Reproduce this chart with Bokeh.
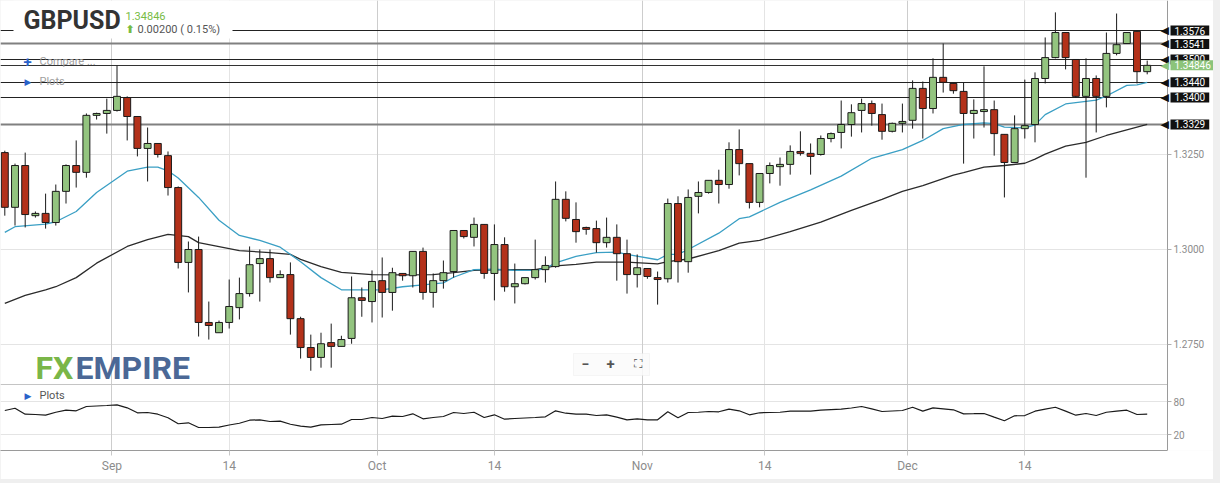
from bokeh.plotting import figure
from bokeh.models import (ColumnDataSource, Range1d, FixedTicker, Label, BoxAnnotation, Grid)
from bokeh.layouts import column
from bokeh.embed import file_html
from bokeh.resources import INLINE

# ---------------- data ----------------
symbol = "GBPUSD"
last_price_text = "1.34846"
change_text = "0.00200 ( 0.15%)"

opens = [1.3255, 1.3111, 1.3221, 1.3089, 1.3095, 1.3071, 1.3153, 1.3221, 1.3203, 1.3353,
         1.3358, 1.3366, 1.3400, 1.3350, 1.3266, 1.3279, 1.3247, 1.3163, 1.2966, 1.3000,
         1.2808, 1.2781, 1.2808, 1.2847, 1.2884, 1.2963, 1.2976, 1.2926, 1.2934, 1.2818,
         1.2742, 1.2716, 1.2755, 1.2745, 1.2766, 1.2873, 1.2863, 1.2918, 1.2887, 1.2937,
         1.2931, 1.2995, 1.2887, 1.2918, 1.2942, 1.3050, 1.3032, 1.3066, 1.2937, 1.3013,
         1.2902, 1.2910, 1.2926, 1.2947, 1.2955, 1.3132, 1.3079, 1.3058, 1.3055, 1.3018,
         1.3032, 1.2989, 1.2934, 1.2950, 1.2926, 1.2923, 1.3121, 1.2968, 1.3140, 1.3150,
         1.3182, 1.3171, 1.3263, 1.3226, 1.3124, 1.3200, 1.3218, 1.3224, 1.3258, 1.3253,
         1.3250, 1.3292, 1.3308, 1.3329, 1.3366, 1.3384, 1.3355, 1.3311, 1.3332, 1.3340,
         1.3424, 1.3371, 1.3453, 1.3437, 1.3416, 1.3358, 1.3363, 1.3368, 1.3303, 1.3229,
         1.3318, 1.3329, 1.3450, 1.3505, 1.3571, 1.3500, 1.3403, 1.3450, 1.3403, 1.3516,
         1.3542, 1.3574, 1.3468]
highs = [1.3260, 1.3226, 1.3255, 1.3100, 1.3147, 1.3171, 1.3224, 1.3287, 1.3358, 1.3360,
         1.3397, 1.3484, 1.3403, 1.3350, 1.3321, 1.3279, 1.3258, 1.3166, 1.3021, 1.3034,
         1.2863, 1.2813, 1.2921, 1.2926, 1.3008, 1.3000, 1.3000, 1.2945, 1.2966, 1.2823,
         1.2776, 1.2781, 1.2805, 1.2773, 1.2929, 1.2900, 1.2945, 1.2979, 1.2952, 1.2937,
         1.2995, 1.3005, 1.2937, 1.2971, 1.3050, 1.3050, 1.3084, 1.3066, 1.3066, 1.3032,
         1.2963, 1.2926, 1.3026, 1.2982, 1.3179, 1.3153, 1.3124, 1.3060, 1.3076, 1.3084,
         1.3066, 1.3026, 1.2987, 1.2950, 1.2942, 1.3134, 1.3140, 1.3158, 1.3179, 1.3182,
         1.3210, 1.3282, 1.3316, 1.3226, 1.3200, 1.3229, 1.3242, 1.3274, 1.3311, 1.3279,
         1.3300, 1.3308, 1.3392, 1.3382, 1.3397, 1.3392, 1.3384, 1.3334, 1.3384, 1.3445,
         1.3442, 1.3503, 1.3542, 1.3437, 1.3440, 1.3395, 1.3482, 1.3392, 1.3303, 1.3353,
         1.3447, 1.3466, 1.3558, 1.3624, 1.3571, 1.3500, 1.3503, 1.3458, 1.3571, 1.3621,
         1.3571, 1.3574, 1.3497]
lows = [1.3089, 1.3063, 1.3058, 1.3084, 1.3055, 1.3063, 1.3121, 1.3163, 1.3189, 1.3342,
        1.3305, 1.3363, 1.3287, 1.3245, 1.3179, 1.3242, 1.3142, 1.2950, 1.2887, 1.2771,
        1.2763, 1.2781, 1.2792, 1.2816, 1.2876, 1.2863, 1.2913, 1.2926, 1.2776, 1.2713,
        1.2681, 1.2689, 1.2689, 1.2745, 1.2752, 1.2823, 1.2808, 1.2821, 1.2839, 1.2918,
        1.2900, 1.2868, 1.2847, 1.2897, 1.2926, 1.3029, 1.3008, 1.2923, 1.2866, 1.2889,
        1.2858, 1.2908, 1.2921, 1.2913, 1.2952, 1.3074, 1.3018, 1.3039, 1.2992, 1.3005,
        1.2918, 1.2884, 1.2900, 1.2923, 1.2855, 1.2913, 1.2913, 1.2939, 1.3095, 1.3147,
        1.3121, 1.3160, 1.3195, 1.3108, 1.3111, 1.3174, 1.3168, 1.3197, 1.3247, 1.3197,
        1.3247, 1.3282, 1.3266, 1.3297, 1.3308, 1.3326, 1.3289, 1.3308, 1.3308, 1.3318,
        1.3292, 1.3358, 1.3413, 1.3410, 1.3226, 1.3292, 1.3321, 1.3247, 1.3137, 1.3229,
        1.3292, 1.3282, 1.3437, 1.3503, 1.3474, 1.3400, 1.3189, 1.3308, 1.3374, 1.3511,
        1.3542, 1.3437, 1.3461]
closes = [1.3111, 1.3221, 1.3092, 1.3095, 1.3071, 1.3153, 1.3221, 1.3203, 1.3353, 1.3358,
          1.3366, 1.3403, 1.3350, 1.3266, 1.3279, 1.3250, 1.3163, 1.2966, 1.3000, 1.2808,
          1.2800, 1.2808, 1.2850, 1.2884, 1.2960, 1.2976, 1.2926, 1.2934, 1.2818, 1.2742,
          1.2716, 1.2752, 1.2745, 1.2763, 1.2873, 1.2866, 1.2916, 1.2887, 1.2939, 1.2931,
          1.2995, 1.2887, 1.2918, 1.2939, 1.3050, 1.3034, 1.3066, 1.2937, 1.3013, 1.2902,
          1.2910, 1.2926, 1.2947, 1.2958, 1.3132, 1.3082, 1.3047, 1.3053, 1.3018, 1.3032,
          1.2989, 1.2934, 1.2952, 1.2929, 1.2921, 1.3121, 1.2968, 1.3137, 1.3150, 1.3182,
          1.3171, 1.3263, 1.3226, 1.3124, 1.3200, 1.3221, 1.3224, 1.3258, 1.3253, 1.3245,
          1.3292, 1.3305, 1.3329, 1.3360, 1.3384, 1.3358, 1.3311, 1.3332, 1.3337, 1.3424,
          1.3371, 1.3453, 1.3440, 1.3418, 1.3358, 1.3366, 1.3368, 1.3305, 1.3229, 1.3318,
          1.3326, 1.3450, 1.3505, 1.3571, 1.3505, 1.3403, 1.3450, 1.3403, 1.3516, 1.3539,
          1.3571, 1.3468, 1.34846]

# fast moving average (blue), read at candle indices
ma_fast_idx = [0, 1, 4, 5, 7, 9, 12, 14, 15, 16, 17, 19, 21, 23, 25, 27, 29, 31, 33, 37,
               39, 41, 43, 44, 46, 48, 50, 52, 53, 54, 56, 58, 60, 61, 64, 65, 66, 67, 70, 72,
               73, 76, 79, 82, 85, 88, 90, 92, 94, 96, 97, 98, 100, 101, 102, 104, 107, 108, 110, 111,
               112]
ma_fast = [1.3045, 1.3060, 1.3067, 1.3073, 1.3100, 1.3150, 1.3206, 1.3217, 1.3217, 1.3207,
           1.3188, 1.3137, 1.3077, 1.3037, 1.3024, 1.3006, 1.2968, 1.2926, 1.2894, 1.2894,
           1.2902, 1.2907, 1.2912, 1.2927, 1.2947, 1.2948, 1.2945, 1.2945, 1.2950, 1.2965,
           1.2982, 1.2992, 1.2993, 1.2987, 1.2973, 1.2987, 1.2987, 1.3000, 1.3043, 1.3081,
           1.3086, 1.3124, 1.3157, 1.3193, 1.3240, 1.3263, 1.3287, 1.3318, 1.3329, 1.3333,
           1.3331, 1.3322, 1.3320, 1.3328, 1.3355, 1.3383, 1.3393, 1.3404, 1.3432, 1.3433,
           1.3440]
# slow moving average (black), read at candle indices
ma_slow_idx = [0, 2, 4, 5, 7, 9, 12, 14, 16, 18, 19, 23, 26, 28, 29, 31, 33, 36, 39, 42,
               44, 46, 49, 52, 54, 56, 58, 61, 64, 65, 67, 70, 72, 74, 77, 80, 83, 86, 88, 90,
               93, 94, 96, 98, 100, 101, 102, 104, 106, 108, 110, 112]
ma_slow = [1.2858, 1.2879, 1.2894, 1.2902, 1.2926, 1.2964, 1.3008, 1.3026, 1.3040, 1.3034,
           1.3018, 1.2997, 1.2992, 1.2987, 1.2974, 1.2955, 1.2940, 1.2934, 1.2933, 1.2934,
           1.2939, 1.2945, 1.2947, 1.2947, 1.2957, 1.2961, 1.2967, 1.2967, 1.2962, 1.2968,
           1.2975, 1.2997, 1.3017, 1.3024, 1.3047, 1.3072, 1.3103, 1.3132, 1.3153, 1.3168,
           1.3196, 1.3202, 1.3217, 1.3221, 1.3227, 1.3238, 1.3251, 1.3272, 1.3282, 1.3300,
           1.3315, 1.3329]

# lower-panel oscillator, one value per candle
osc = [63.6, 67.8, 56.9, 56.4, 55.1, 60.5, 64.2, 63.1, 70.9, 71.8,
       72.7, 74.0, 68.5, 59.5, 60.0, 56.9, 50.4, 39.5, 41.3, 32.7,
       32.7, 33.3, 37.3, 40.5, 46.0, 46.7, 43.6, 44.2, 38.7, 35.1,
       33.3, 37.6, 38.2, 38.7, 47.3, 47.3, 50.9, 49.1, 53.3, 52.7,
       57.6, 48.5, 50.9, 52.7, 60.0, 58.2, 60.5, 50.9, 55.8, 47.8,
       49.1, 50.0, 50.9, 52.2, 63.1, 58.7, 56.9, 56.9, 54.5, 55.8,
       51.5, 46.7, 48.5, 46.7, 46.7, 61.3, 50.4, 60.0, 60.5, 61.8,
       61.3, 66.0, 63.1, 55.8, 59.5, 60.0, 60.5, 62.4, 62.4, 62.4,
       64.2, 65.1, 66.0, 68.2, 70.9, 66.7, 61.8, 62.7, 63.6, 69.6,
       62.4, 68.5, 66.7, 64.9, 57.6, 57.8, 58.2, 51.5, 44.9, 54.0,
       54.5, 62.4, 66.0, 69.6, 62.4, 55.1, 58.2, 54.5, 60.5, 62.4,
       64.2, 56.4, 56.9]

# horizontal price levels with their tags
level_values = [1.3576, 1.3541, 1.3500, 1.3440, 1.3400, 1.3329]
level_labels = ["1.3576", "1.3541", "1.3500", "1.3440", "1.3400", "1.3329"]
current_price = 1.34846

price_ticks = [1.275, 1.300, 1.325]
price_tick_labels = ["1.2750", "1.3000", "1.3250"]
osc_ticks = [20, 80]
osc_tick_labels = ["20", "80"]

# date ticks, in candle-index units
date_ticks = [10.5, 22, 36.5, 48, 62.5, 74.5, 88.5, 100]
date_labels = ["Sep", "14", "Oct", "14", "Nov", "14", "Dec", "14"]
month_ticks = [10.5, 36.5, 62.5, 88.5]

# ---------------- layout constants ----------------
W, H = 1213, 479
FRAME_W, FRAME_H = 1213, 450
AXIS_PX = 1167          # where the price axis sits
X0, X1 = -0.4216, 118.50
P_TOP, P_BOT = 1.365526, 1.247105
O_TOP, O_BOT = 809.09, -9.09


def sx(px):
    return X0 + px / FRAME_W * (X1 - X0)


def sy(py):
    return P_TOP - py / FRAME_H * (P_TOP - P_BOT)


def so(py):
    return O_TOP - py / FRAME_H * (O_TOP - O_BOT)


def osc_to_price(v):
    return P_BOT + (v - O_BOT) / (O_TOP - O_BOT) * (P_TOP - P_BOT)


FONT = "Roboto"
UP, DOWN = "#93c47f", "#b3311a"

p = figure(width=W, height=H, x_range=Range1d(X0, X1), y_range=Range1d(P_BOT, P_TOP),
           y_axis_location="right", output_backend="svg", toolbar_location=None,
           min_border_left=0, min_border_top=0, min_border_right=0,
           min_border_bottom=H - FRAME_H, outline_line_color=None,
           background_fill_color="white", border_fill_color="white")
p.extra_y_ranges = {"osc": Range1d(O_BOT, O_TOP)}

# axes / grids
osc_price_ticks = [osc_to_price(v) for v in osc_ticks]
yt = price_ticks + osc_price_ticks
ylab = price_tick_labels + osc_tick_labels
yax = p.yaxis[0]
yax.fixed_location = sx(AXIS_PX)
yax.ticker = FixedTicker(ticks=yt)
yax.major_label_overrides = {t: s for t, s in zip(yt, ylab)}
yax.axis_line_color = "#9a9a9a"
yax.major_tick_line_color = "#b0b0b0"
yax.major_tick_out = 4
yax.major_tick_in = 0
yax.minor_tick_line_color = None
yax.major_label_text_font = FONT
yax.major_label_text_font_size = "10px"
yax.major_label_text_color = "#8c8c8c"
yax.major_label_standoff = 2

xax = p.xaxis[0]
xax.bounds = (X0, sx(AXIS_PX))
xax.ticker = FixedTicker(ticks=date_ticks)
xax.major_label_overrides = {t: s for t, s in zip(date_ticks, date_labels)}
xax.axis_line_color = "#9a9a9a"
xax.major_tick_line_color = "#c8c8c8"
xax.major_tick_out = 5
xax.major_tick_in = 0
xax.minor_tick_line_color = None
xax.major_label_text_font = FONT
xax.major_label_text_font_size = "12px"
xax.major_label_text_color = "#8c8c8c"
xax.major_label_standoff = 3

p.ygrid.ticker = FixedTicker(ticks=yt)
p.ygrid.grid_line_color = "#e4e4e4"
p.xgrid.ticker = FixedTicker(ticks=date_ticks)
p.xgrid.grid_line_color = "#e4e4e4"
p.add_layout(Grid(dimension=0, ticker=FixedTicker(ticks=month_ticks), grid_line_color="#cdcdcd"))

# panel separator
p.hspan(y=[so(384)], y_range_name="osc", line_color="#c4c4c4", line_width=1)

# price levels
lvl_colors = ["#222222", "#808080", "#222222", "#222222", "#222222", "#808080"]
lvl_widths = [1, 2, 1, 1, 1, 2]
p.hspan(y=level_values, line_color=lvl_colors, line_width=lvl_widths)
p.hspan(y=[current_price], line_color="#333333", line_width=1)

# white area right of the price axis (grid / level lines stop at the axis)
p.quad(left=sx(AXIS_PX + 0.5), right=X1 + 1, bottom=P_BOT - 1, top=P_TOP + 1,
       fill_color="white", line_color=None)

# moving averages
p.line(ma_slow_idx, ma_slow, line_color="#2b2b2b", line_width=1.3)
p.line(ma_fast_idx, ma_fast, line_color="#3a9fc4", line_width=1.3)

# candles
n = len(opens)
src = ColumnDataSource(dict(
    k=list(range(n)), o=opens, h=highs, l=lows, c=closes,
    top=[max(a, b) for a, b in zip(opens, closes)],
    bottom=[min(a, b) for a, b in zip(opens, closes)],
    color=[UP if c >= o else DOWN for o, c in zip(opens, closes)],
))
p.segment(x0="k", y0="l", x1="k", y1="h", line_color="#1a1a1a", line_width=1, source=src)
p.vbar(x="k", width=0.68, top="top", bottom="bottom", fill_color="color",
       line_color="#1a1a1a", line_width=1, source=src)

# oscillator
p.line(list(range(len(osc))), osc, y_range_name="osc", line_color="#1a1a1a", line_width=1.2)

# header background
p.add_layout(BoxAnnotation(left=sx(13), right=sx(232), top=sy(0), bottom=sy(38),
                           fill_color="white", fill_alpha=1, line_color=None))


def lab(px, py, text, size, color, style="normal", align="left", font=FONT, **kw):
    p.add_layout(Label(x=sx(px), y=sy(py), text=text, text_font=font,
                       text_font_size=size, text_color=color, text_font_style=style,
                       text_align=align, text_baseline="middle", **kw))


lab(23, 20, symbol, "25px", "#333333", "bold")
lab(125, 15, last_price_text, "11px", "#77bb44")
lab(125, 29, "⬆", "11px", "#77bb44", "bold", font="DejaVu Sans")
lab(137, 29, change_text, "11px", "#555555")

lab(23, 61, "+", "15px", "#2a62c9", "bold")
lab(39, 61, "Compare ...", "11px", "#a0a0a0")
lab(24, 81, "▶", "9px", "#2a62c9", font="DejaVu Sans")
lab(39, 81, "Plots", "11px", "#a0a0a0")
lab(24, 395, "▶", "9px", "#2a62c9", font="DejaVu Sans")
lab(39, 395, "Plots", "11px", "#555555")

# logo
lab(35, 367, "FX", "32px", "#7ab648", "bold")
lab(75, 367, "EMPIRE", "32px", "#4b6896", "bold")

# zoom buttons
p.add_layout(BoxAnnotation(left=sx(573), right=sx(649), top=sy(353), bottom=sy(375),
                           fill_color="#fafafa", fill_alpha=0.85, line_color="#e6e6e6"))
lab(585, 363, "−", "14px", "#555555", "bold", "center")
lab(610, 363, "+", "15px", "#555555", "bold", "center")
lab(637, 363, "⛶", "12px", "#555555", "normal", "center", font="DejaVu Sans")


# price tags
def tag(v, text, color):
    p.add_layout(Label(x=sx(1160), y=v, text="◀", text_font="DejaVu Sans", text_font_size="11px",
                       text_color=color, text_align="left", text_baseline="middle"))
    p.add_layout(Label(x=sx(1170), y=v, text=text, text_font=FONT, text_font_size="10px",
                       text_color="white", text_align="left", text_baseline="middle",
                       background_fill_color=color, padding=(4, 1)))


for v, t in zip(level_values, level_labels):
    tag(v, t, "#111111")
    if t == "1.3500":
        tag(current_price, last_price_text, "#8cc47a")

layout = column(p, width=1220, height=483, styles={"background-color": "#efefef"})
open("out.html", "w").write(file_html(layout, INLINE))
